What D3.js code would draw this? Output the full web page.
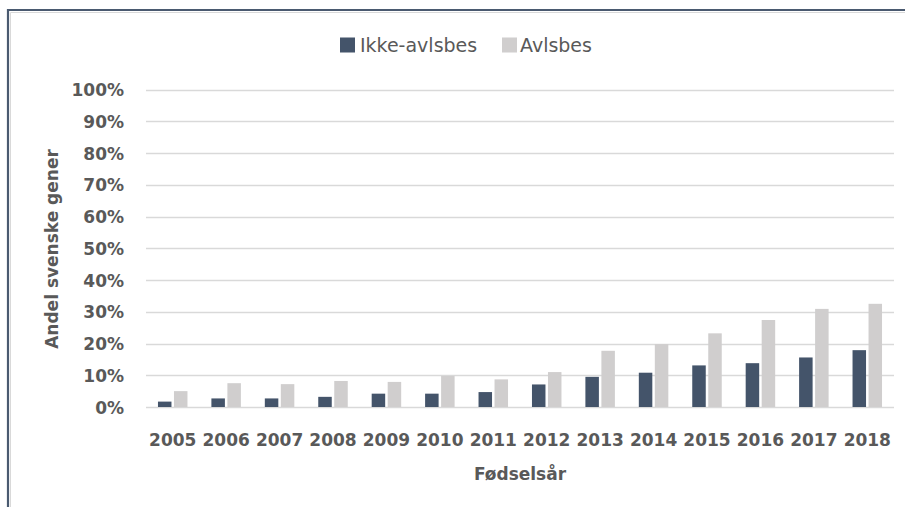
<!DOCTYPE html>
<html>
<head>
<meta charset="utf-8">
<script src="https://cdn.jsdelivr.net/npm/d3@7"></script>
<style>
  html, body { margin: 0; padding: 0; background: #fff; }
  svg { display: block; }
</style>
</head>
<body>
<svg id="chart" width="905" height="507"></svg>
<script>
const years = ["2005","2006","2007","2008","2009","2010","2011","2012","2013","2014","2015","2016","2017","2018"];
const ikkeAvlsbes = [1.7, 2.7, 2.7, 3.2, 4.2, 4.2, 4.7, 7.1, 9.5, 10.8, 13.1, 13.8, 15.6, 17.9];
const avlsbes     = [5.0, 7.5, 7.2, 8.2, 7.9, 9.8, 8.7, 11.0, 17.7, 19.8, 23.2, 27.4, 30.9, 32.5];
const seriesNames = ["Ikke-avlsbes", "Avlsbes"];
const seriesColors = ["#44546a", "#d0cece"];
const yTicks = [0,10,20,30,40,50,60,70,80,90,100];
const yTitle = "Andel svenske gener";
const xTitle = "Fødselsår";

const svg = d3.select("#chart");
const font = "'DejaVu Sans', sans-serif";
const textColor = "#595959";

// frame
svg.append("path").attr("d", "M9,507 V11 H905").attr("fill","none").attr("stroke","#d9d9d9").attr("stroke-width",1).attr("transform","translate(1.5,1.5)");
svg.append("path").attr("d", "M8,507 V10 H905").attr("fill","none").attr("stroke","#4a5a70").attr("stroke-width",2.2);

const x = d3.scaleBand().domain(years).range([146, 894]).paddingInner(0).paddingOuter(0);
const y = d3.scaleLinear().domain([0,100]).range([407, 89.5]);

// grid
svg.append("g").selectAll("line").data(yTicks).join("line")
  .attr("x1", 146).attr("x2", 894)
  .attr("y1", d => Math.round(y(d)) + 0.5).attr("y2", d => Math.round(y(d)) + 0.5)
  .attr("stroke", "#d9d9d9").attr("stroke-width", 1.5);

// bars
const barW = 13.5, gap = 2.5;
const data = years.map((yr,i) => ({yr, vals:[ikkeAvlsbes[i], avlsbes[i]]}));
const g = svg.append("g");
data.forEach(d => {
  const c = x(d.yr) + x.bandwidth()/2;
  d.vals.forEach((v,k) => {
    const x0 = k === 0 ? c - gap/2 - barW : c + gap/2;
    g.append("rect")
      .attr("x", x0).attr("width", barW)
      .attr("y", y(v)).attr("height", y(0) - y(v))
      .attr("fill", seriesColors[k]);
  });
});

// y axis
const yAxis = d3.axisLeft(y).tickValues(yTicks).tickFormat(d => d + "%").tickSize(0).tickPadding(0);
const ya = svg.append("g").attr("transform", "translate(124,0)").call(yAxis);
ya.select(".domain").remove();
ya.selectAll("text").attr("font-family", font).attr("font-weight","bold").attr("font-size", 17)
  .attr("fill", textColor).attr("dy", "0.36em");

// x axis
const xAxis = d3.axisBottom(x).tickSize(0).tickPadding(0);
const xa = svg.append("g").attr("transform", "translate(0,446)").call(xAxis);
xa.select(".domain").remove();
xa.selectAll("text").attr("font-family", font).attr("font-weight","bold").attr("font-size", 17)
  .attr("fill", textColor).attr("dy", 0);

// titles
svg.append("text").attr("x", 520).attr("y", 480).attr("text-anchor","middle")
  .attr("font-family", font).attr("font-weight","bold").attr("font-size", 17).attr("fill", textColor).text(xTitle);
svg.append("text").attr("transform", "translate(58,249) rotate(-90)").attr("text-anchor","middle")
  .attr("font-family", font).attr("font-weight","bold").attr("font-size", 17).attr("fill", textColor).text(yTitle);

// legend
const legendItems = [{name: seriesNames[0], color: seriesColors[0], sx: 340, tx: 360},
                     {name: seriesNames[1], color: seriesColors[1], sx: 502, tx: 520}];
const lg = svg.append("g");
legendItems.forEach(it => {
  lg.append("rect").attr("x", it.sx).attr("y", 37.5).attr("width", 15).attr("height", 15).attr("fill", it.color);
  lg.append("text").attr("x", it.tx).attr("y", 51.5).attr("font-family", font).attr("font-size", 19)
    .attr("fill", textColor).text(it.name);
});
</script>
</body>
</html>
